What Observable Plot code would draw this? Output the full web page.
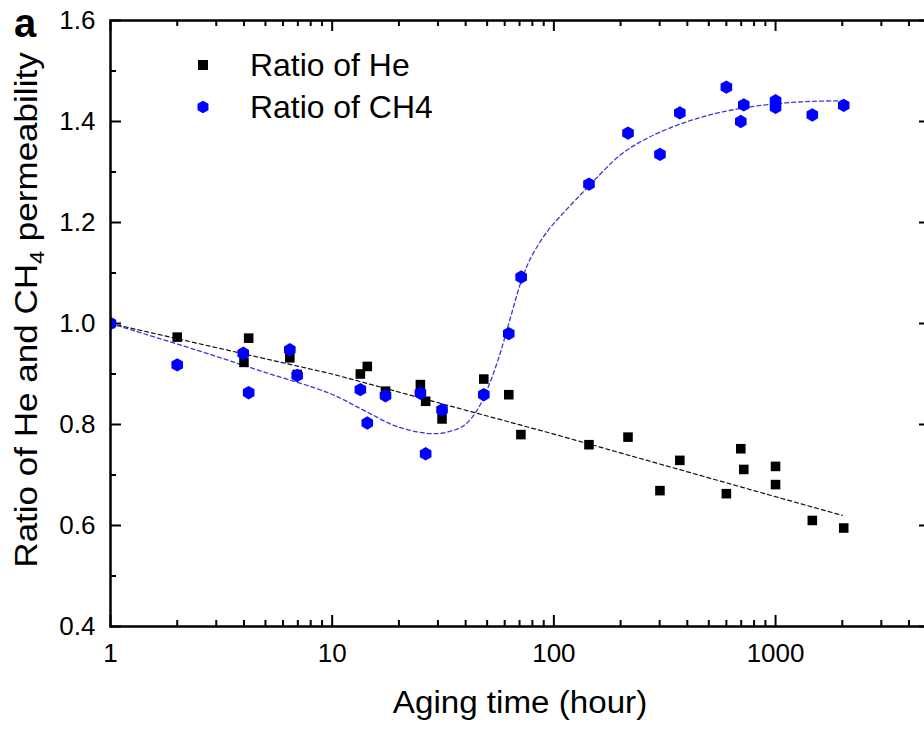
<!DOCTYPE html>
<html><head><meta charset="utf-8">
<script src="https://cdn.jsdelivr.net/npm/d3@7"></script>
<script src="https://cdn.jsdelivr.net/npm/@observablehq/plot@0.6"></script>
<style>
html,body{margin:0;padding:0;background:#fff;overflow:hidden;width:924px;height:729px}
#chart{position:absolute;left:0;top:0;width:940px}
#chart svg{max-width:none !important}
</style>
</head><body><div id="chart"></div><script>
// Aging time (hour) for each measurement
const heTimes  = [1, 2, 4, 4.2, 6.44, 6.95, 13.4, 14.4, 17.4, 25, 26.4, 31.3, 48.3, 62.6, 71, 144, 216, 301, 370, 600, 697, 719, 1000, 1000, 1465, 2030];
const heRatio  = [1.0, 0.973, 0.923, 0.971, 0.932, 0.899, 0.900, 0.915, 0.866, 0.879, 0.846, 0.811, 0.890, 0.859, 0.780, 0.760, 0.775, 0.669, 0.729, 0.663, 0.752, 0.711, 0.717, 0.681, 0.610, 0.595];
const ch4Times = [1, 2, 3.97, 4.2, 6.44, 6.95, 13.4, 14.4, 17.4, 25, 26.4, 31.3, 48.3, 62.6, 71.2, 144, 216, 301, 370, 600, 697, 719, 1000, 1000, 1465, 2030];
const ch4Ratio = [1.0, 0.918, 0.941, 0.863, 0.948, 0.897, 0.869, 0.803, 0.857, 0.862, 0.742, 0.829, 0.859, 0.980, 1.092, 1.276, 1.377, 1.335, 1.417, 1.468, 1.400, 1.433, 1.441, 1.428, 1.413, 1.432];

// fitted (dashed) curves
const heFitX  = [1, 10, 100, 1000, 2000];
const heFitY  = [1.0, 0.90, 0.781, 0.657, 0.62];
const ch4FitX = [1, 2.46, 4.92, 9.82, 13.9, 19.6, 27.7, 33, 39.3, 44.7, 50.1, 56.2, 63.1, 70.8, 78.3, 93.3, 111, 132, 145, 200, 264, 372, 526, 745, 1052, 1486, 2037];
const ch4FitY = [1.0, 0.947, 0.904, 0.861, 0.828, 0.796, 0.782, 0.785, 0.798, 0.826, 0.870, 0.930, 1.005, 1.080, 1.128, 1.182, 1.22, 1.255, 1.274, 1.334, 1.367, 1.395, 1.415, 1.428, 1.436, 1.440, 1.441];

// axis ticks
const xMajor = [1, 10, 100, 1000];
const xMinor = [2,3,4,5,6,7,8,9, 20,30,40,50,60,70,80,90, 200,300,400,500,600,700,800,900, 2000,3000,4000];
const yMajor = [0.4, 0.6, 0.8, 1.0, 1.2, 1.4, 1.6];
const yMinor = [0.5, 0.7, 0.9, 1.1, 1.3, 1.5];

const seriesNames = ["Ratio of He", "Ratio of CH4"];
const xTitle = "Aging time (hour)";
const panelLabel = "a";

const FONT = "Arial, 'Liberation Sans', sans-serif";
const mL = 110, mR = 10, mT = 20, mB = 103, WIDTH = 940, HEIGHT = 729;
const fw = WIDTH - mL - mR, fh = HEIGHT - mT - mB;
const majL = 11, minL = 6;

const chart = Plot.plot({
  width: WIDTH, height: HEIGHT,
  marginLeft: mL, marginRight: mR, marginTop: mT, marginBottom: mB,
  style: {fontFamily: FONT, fontSize: "26px", background: "white", color: "black", overflow: "visible", maxWidth: "none"},
  x: {type: "log", domain: [1, 5000], ticks: xMajor, tickSize: 0, tickPadding: 17, tickFormat: d => String(d), label: null},
  y: {domain: [0.4, 1.6], ticks: yMajor, tickSize: 0, tickPadding: 15, tickFormat: d => d.toFixed(1), label: null},
  marks: [
    // ticks pointing inward on all four sides
    Plot.ruleX(xMajor, {x: d => d, insetTop: fh - majL, strokeWidth: 2}),
    Plot.ruleX(xMinor, {x: d => d, insetTop: fh - minL, strokeWidth: 2}),
    Plot.ruleX(xMajor, {x: d => d, insetBottom: fh - majL, strokeWidth: 2}),
    Plot.ruleX(xMinor, {x: d => d, insetBottom: fh - minL, strokeWidth: 2}),
    Plot.ruleY(yMajor, {y: d => d, insetRight: fw - majL, strokeWidth: 2}),
    Plot.ruleY(yMinor, {y: d => d, insetRight: fw - minL, strokeWidth: 2}),
    Plot.ruleY(yMajor, {y: d => d, insetLeft: fw - majL, strokeWidth: 2}),
    Plot.ruleY(yMinor, {y: d => d, insetLeft: fw - minL, strokeWidth: 2}),
    Plot.line(heFitX, {x: heFitX, y: heFitY, stroke: "#111", strokeWidth: 1.2, strokeDasharray: "4,3", clip: true}),
    Plot.line(ch4FitX, {x: ch4FitX, y: ch4FitY, curve: "catmull-rom", stroke: "#3a3ad6", strokeWidth: 1.3, strokeDasharray: "4,3", clip: true}),
    Plot.dot(heTimes, {x: heTimes, y: heRatio, symbol: "square", r: 5.4, fill: "black", clip: true}),
    Plot.dot(ch4Times, {x: ch4Times, y: ch4Ratio, symbol: "hexagon", r: 5.8, fill: "#0000ff", clip: true}),
    Plot.frame({stroke: "black", strokeWidth: 2.5})
  ]
});
chart.style.maxWidth = "none";
document.getElementById("chart").appendChild(chart);

const svg = d3.select(chart);
// x title
svg.append("text").attr("transform", "translate(520,713) scale(1.07,1)").attr("text-anchor", "middle")
  .attr("font-family", FONT).attr("font-size", 31).attr("fill", "black").text(xTitle);
// y title with subscript
const yt = svg.append("text").attr("transform", "translate(37,310) rotate(-90) scale(1.13,1)")
  .attr("text-anchor", "middle").attr("font-family", FONT).attr("font-size", 31).attr("fill", "black");
yt.append("tspan").text("Ratio of He and CH");
yt.append("tspan").attr("font-size", 21).attr("dy", 7).text("4");
yt.append("tspan").attr("dy", -7).text(" permeability");
// panel label
svg.append("text").attr("x", 14).attr("y", 37).attr("text-anchor", "start").attr("font-family", FONT).attr("font-size", 40)
  .attr("font-weight", "bold").attr("fill", "black").text(panelLabel);
// legend
const sq = 10;
svg.append("rect").attr("x", 203 - sq/2).attr("y", 65 - sq/2).attr("width", sq).attr("height", sq).attr("fill", "black");
const hr = 6.3;
const hexPts = d3.range(6).map(i => { const a = Math.PI/2 + i*Math.PI/3; return [203 + hr*Math.cos(a), 107 + hr*Math.sin(a)]; });
svg.append("path").attr("d", "M" + hexPts.join("L") + "Z").attr("fill", "#0000ff");
svg.append("text").attr("transform", "translate(250,65) scale(1.03,1)").attr("dy", "0.36em").attr("text-anchor", "start").attr("font-family", FONT).attr("font-size", 31).text(seriesNames[0]);
svg.append("text").attr("transform", "translate(250,107) scale(1.03,1)").attr("dy", "0.36em").attr("text-anchor", "start").attr("font-family", FONT).attr("font-size", 31).text(seriesNames[1]);
</script></body></html>
